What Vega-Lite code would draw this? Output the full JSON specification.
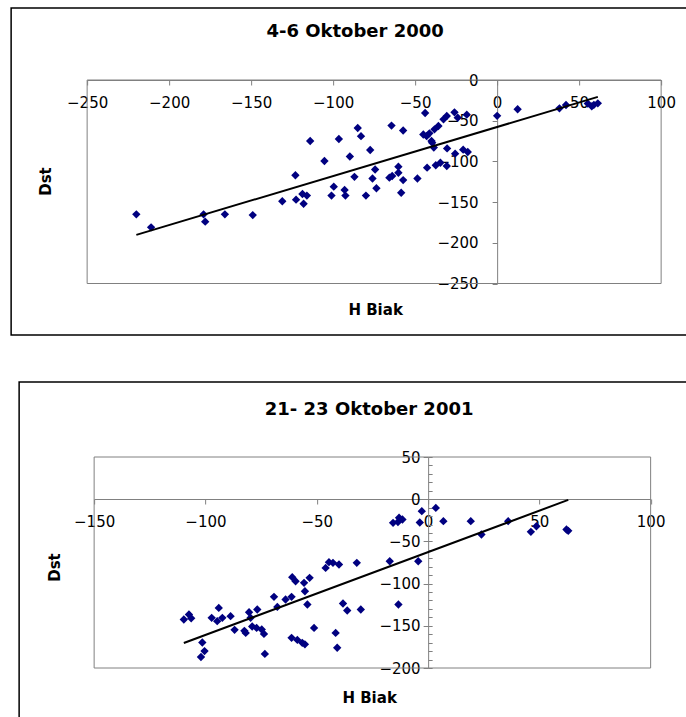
{
  "$schema": "https://vega.github.io/schema/vega-lite/v6.json",
  "padding": {"left": 10, "top": 7, "right": 0, "bottom": 0},
  "config": {
    "font": "DejaVu Sans",
    "view": {"stroke": "#000000", "strokeWidth": 1.5},
    "axis": {"labelFontSize": 15, "labelColor": "#000000", "domainColor": "#808080", "tickColor": "#808080", "labelOverlap": false, "labelFlush": false, "grid": false, "titleFontSize": 15, "titleFontWeight": "bold", "titleColor": "#000000"},
    "title": {"fontSize": 18, "fontWeight": "bold", "color": "#000000"}
  },
  "datasets": {
    "oct2000": [
      {"x": -220, "y": -165}, {"x": -211, "y": -181}, {"x": -179, "y": -165}, {"x": -178, "y": -174}, {"x": -166, "y": -165},
      {"x": -149, "y": -166}, {"x": -131, "y": -149}, {"x": -123, "y": -117}, {"x": -122.6, "y": -147}, {"x": -118.7, "y": -140},
      {"x": -116, "y": -142}, {"x": -118, "y": -152}, {"x": -114, "y": -75}, {"x": -105.3, "y": -99.5}, {"x": -96.5, "y": -72.5},
      {"x": -99.6, "y": -131}, {"x": -101, "y": -142}, {"x": -93, "y": -135}, {"x": -92.5, "y": -142}, {"x": -89.8, "y": -94},
      {"x": -87, "y": -119}, {"x": -85, "y": -59}, {"x": -83, "y": -69}, {"x": -80, "y": -142}, {"x": -77.4, "y": -86},
      {"x": -74.4, "y": -110}, {"x": -76, "y": -121}, {"x": -73.6, "y": -133}, {"x": -65.7, "y": -120}, {"x": -64.4, "y": -56},
      {"x": -64, "y": -118}, {"x": -60.2, "y": -106.5}, {"x": -60.2, "y": -114}, {"x": -57.3, "y": -62}, {"x": -57.3, "y": -123},
      {"x": -58.5, "y": -138.5}, {"x": -48.6, "y": -121}, {"x": -43.9, "y": -40.5}, {"x": -45, "y": -67}, {"x": -43, "y": -69},
      {"x": -41.3, "y": -65.5}, {"x": -39.6, "y": -77}, {"x": -38.6, "y": -83}, {"x": -40, "y": -75}, {"x": -38.2, "y": -60.6},
      {"x": -42.7, "y": -107.7}, {"x": -37.4, "y": -104.8}, {"x": -34.6, "y": -101.6}, {"x": -35.8, "y": -56.5}, {"x": -32.7, "y": -48.3},
      {"x": -30.7, "y": -44.2}, {"x": -30.7, "y": -105.7}, {"x": -30.5, "y": -84}, {"x": -26, "y": -39.7}, {"x": -25.6, "y": -90.5},
      {"x": -24, "y": -46.3}, {"x": -20.7, "y": -85.6}, {"x": -17.9, "y": -88.5}, {"x": -18.5, "y": -42.6}, {"x": 0, "y": -44},
      {"x": 12.5, "y": -36}, {"x": 38, "y": -34.8}, {"x": 42, "y": -30.7}, {"x": 55.3, "y": -29}, {"x": 57.7, "y": -32.4},
      {"x": 61.4, "y": -28.7}, {"x": 59, "y": -30.5}
    ],
    "oct2001": [
      {"x": -109.7, "y": -142.6}, {"x": -107.4, "y": -136.6}, {"x": -106.4, "y": -141}, {"x": -101.4, "y": -169.8}, {"x": -100.4, "y": -180},
      {"x": -102, "y": -187}, {"x": -94, "y": -128.8}, {"x": -97.2, "y": -140.6}, {"x": -94.7, "y": -144.5}, {"x": -92.4, "y": -140.6},
      {"x": -88.7, "y": -138.6}, {"x": -86.9, "y": -154.8}, {"x": -81.9, "y": -158.4}, {"x": -82.5, "y": -156}, {"x": -80.4, "y": -133.9},
      {"x": -79.7, "y": -140.6}, {"x": -79, "y": -150.8}, {"x": -76.7, "y": -130.7}, {"x": -77, "y": -152.5}, {"x": -74.7, "y": -154.4},
      {"x": -73.7, "y": -159.6}, {"x": -73.3, "y": -183.3}, {"x": -69.2, "y": -115.7}, {"x": -67.7, "y": -127.6}, {"x": -64, "y": -118.9},
      {"x": -61.3, "y": -115.7}, {"x": -61, "y": -92.4}, {"x": -59.5, "y": -97.2}, {"x": -61.3, "y": -164.3}, {"x": -58.7, "y": -166.7},
      {"x": -56.5, "y": -170.2}, {"x": -55.3, "y": -172}, {"x": -55.7, "y": -99.1}, {"x": -55.3, "y": -109}, {"x": -53.2, "y": -93.2},
      {"x": -54.2, "y": -124.8}, {"x": -51.2, "y": -152.5}, {"x": -46, "y": -81.4}, {"x": -44.5, "y": -74.6}, {"x": -42.7, "y": -75.4},
      {"x": -41.5, "y": -158.4}, {"x": -40.8, "y": -176}, {"x": -40, "y": -77.4}, {"x": -32, "y": -75.4}, {"x": -38.2, "y": -123.6},
      {"x": -36.3, "y": -131.9}, {"x": -30.2, "y": -130.7}, {"x": -17.2, "y": -73.5}, {"x": -15.7, "y": -28}, {"x": -13, "y": -22},
      {"x": -11.5, "y": -24}, {"x": -13.5, "y": -27}, {"x": -13.3, "y": -124.8}, {"x": -4.4, "y": -73.5}, {"x": -3.7, "y": -27.6},
      {"x": -2.8, "y": -14.2}, {"x": 3.5, "y": -10.3}, {"x": 6.9, "y": -26}, {"x": 19.2, "y": -26}, {"x": 24, "y": -41.8},
      {"x": 36, "y": -26}, {"x": 46.2, "y": -38.7}, {"x": 48.7, "y": -32}, {"x": 62.2, "y": -35.9}, {"x": 63, "y": -37.5}
    ]
  },
  "spacing": 45,
  "center": true,
  "vconcat": [
    {
      "width": 760,
      "height": 327,
      "title": {"text": "4-6 Oktober 2000", "offset": -42, "baseline": "middle", "dx": -36},
      "resolve": {"axis": {"x": "independent", "y": "independent"}},
      "layer": [
        {
          "data": {"values": [{}]},
          "mark": {"type": "rect", "filled": false, "stroke": "#808080", "strokeWidth": 1},
          "encoding": {
            "x": {"datum": -250, "type": "quantitative", "axis": null},
            "x2": {"datum": 100},
            "y": {"datum": -250, "type": "quantitative", "axis": null},
            "y2": {"datum": 0}
          }
        },
        {
          "data": {"name": "oct2000"},
          "mark": {"type": "point", "shape": "diamond", "filled": true, "color": "#000080", "size": 70, "opacity": 1},
          "encoding": {
            "x": {
              "field": "x", "type": "quantitative",
              "scale": {"domain": [-250, 100], "range": [76, 650], "nice": false, "zero": false},
              "axis": {"title": "H Biak", "values": [-250, -200, -150, -100, -50, 0, 50, 100], "orient": "bottom", "offset": -255, "tickSize": 5, "labelPadding": 10, "titleX": 364, "titleY": 229, "titleBaseline": "middle", "titleAlign": "center"}
            },
            "y": {
              "field": "y", "type": "quantitative",
              "scale": {"domain": [-250, 0], "range": [275.5, 72], "nice": false, "zero": false},
              "axis": {"title": "Dst", "values": [-250, -200, -150, -100, -50, 0], "orient": "left", "offset": -486, "tickSize": 5, "labelPadding": 14, "titleX": -452, "titleY": 173, "titleAngle": -90, "titleBaseline": "middle", "titleAlign": "center"}
            }
          }
        },
        {
          "data": {"name": "oct2000"},
          "transform": [{"regression": "y", "on": "x"}],
          "mark": {"type": "line", "color": "#000000", "strokeWidth": 2},
          "encoding": {
            "x": {"field": "x", "type": "quantitative", "axis": null},
            "y": {"field": "y", "type": "quantitative", "axis": null}
          }
        }
      ]
    },
    {
      "width": 744,
      "height": 346,
      "title": {"text": "21- 23 Oktober 2001", "offset": -46, "baseline": "middle", "dx": -22},
      "resolve": {"axis": {"x": "independent", "y": "independent"}},
      "layer": [
        {
          "data": {"values": [{}]},
          "mark": {"type": "rect", "filled": false, "stroke": "#808080", "strokeWidth": 1},
          "encoding": {
            "x": {"datum": -150, "type": "quantitative", "axis": null},
            "x2": {"datum": 100},
            "y": {"datum": -200, "type": "quantitative", "axis": {"orient": "right", "offset": -335, "values": [-200, -190, -180, -170, -160, -150, -140, -130, -120, -110, -100, -90, -80, -70, -60, -50, -40, -30, -20, -10, 0, 10, 20, 30, 40, 50], "labels": false, "tickSize": 4, "domain": false, "title": null}},
            "y2": {"datum": 50}
          }
        },
        {
          "data": {"name": "oct2001"},
          "mark": {"type": "point", "shape": "diamond", "filled": true, "color": "#000080", "size": 70, "opacity": 1},
          "encoding": {
            "x": {
              "field": "x", "type": "quantitative",
              "scale": {"domain": [-150, 100], "range": [75, 631.5], "nice": false, "zero": false},
              "axis": {"title": "H Biak", "values": [-150, -100, -50, 0, 50, 100], "orient": "bottom", "offset": -229, "tickSize": 5, "labelPadding": 10, "titleX": 350, "titleY": 198, "titleBaseline": "middle", "titleAlign": "center"}
            },
            "y": {
              "field": "y", "type": "quantitative",
              "scale": {"domain": [-200, 50], "range": [286, 75], "nice": false, "zero": false},
              "axis": {"title": "Dst", "values": [-200, -150, -100, -50, 0, 50], "orient": "left", "offset": -409, "tickSize": 5, "labelPadding": 3, "titleX": -374, "titleY": 185, "titleAngle": -90, "titleBaseline": "middle", "titleAlign": "center"}
            }
          }
        },
        {
          "data": {"name": "oct2001"},
          "transform": [{"regression": "y", "on": "x"}],
          "mark": {"type": "line", "color": "#000000", "strokeWidth": 2},
          "encoding": {
            "x": {"field": "x", "type": "quantitative", "axis": null},
            "y": {"field": "y", "type": "quantitative", "axis": null}
          }
        }
      ]
    }
  ]
}
